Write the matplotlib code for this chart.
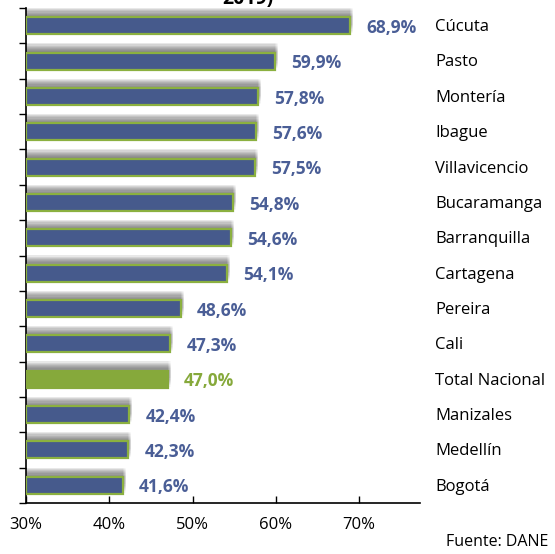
import matplotlib
matplotlib.use("Agg")
import matplotlib.pyplot as plt
from matplotlib.transforms import blended_transform_factory

cities = ["Cúcuta", "Pasto", "Montería", "Ibague", "Villavicencio", "Bucaramanga",
          "Barranquilla", "Cartagena", "Pereira", "Cali", "Total Nacional",
          "Manizales", "Medellín", "Bogotá"]
values = [68.9, 59.9, 57.8, 57.6, 57.5, 54.8, 54.6, 54.1, 48.6, 47.3, 47.0, 42.4, 42.3, 41.6]
xticks = [30, 40, 50, 60, 70]

plt.rcParams['font.family'] = ['Open Sans', 'DejaVu Sans']

fig = plt.figure(figsize=(5.55, 5.54), dpi=100)
ax = fig.add_axes([26/555, 1-503/554, (420-26)/555, (503-8)/554])
xmin, xmax = 30, 77.3
ax.set_xlim(xmin, xmax)
n = len(cities)
ax.set_ylim(n - 0.5, -0.5)

blue = "#465a8c"
green = "#86a93b"
edge = "#8bb040"
lblue = "#4a5e96"

ys = list(range(n))
bh = 0.48
# soft blurred shadow above bars
for i in range(8):
    off = 0.033 * (i + 1)
    for j in range(4):
        ext = 0.12 * j
        ax.barh([y - off for y in ys], [v - xmin + ext for v in values], left=xmin,
                height=bh, color="#606060", alpha=0.035, linewidth=0, zorder=1)
for y, v, c in zip(ys, values, cities):
    total = c == "Total Nacional"
    ax.barh(y, v - xmin, left=xmin, height=bh,
            color=green if total else blue,
            edgecolor=green if total else edge, linewidth=1.6, zorder=3)
    ax.text(v + 1.95, y + 0.06, f"{v:.1f}%".replace(".", ","), ha="left", va="center",
            fontsize=12.5, fontweight="bold", color=green if total else lblue, zorder=4)

tr = blended_transform_factory(fig.transFigure, ax.transData)
for y, c in zip(ys, cities):
    ax.text(435/555, y + 0.04, c, transform=tr, ha="left", va="center",
            fontsize=12, color="black")

ax.set_xticks(xticks)
ax.set_xticklabels([f"{t}%" for t in xticks], fontsize=12)
ax.set_yticks([i - 0.5 for i in range(n + 1)])
ax.set_yticklabels([])
ax.tick_params(axis="y", length=5, width=1, direction="out")
ax.tick_params(axis="x", length=5, width=1, direction="in", pad=10)
for s in ["top", "right"]:
    ax.spines[s].set_visible(False)
ax.spines["left"].set_linewidth(1.2)
ax.spines["bottom"].set_linewidth(1.2)

fig.text(248/555, 1 + 1/554, "2019)", ha="center", va="center", fontsize=14,
         fontweight="bold")
fig.text(548/555, 1 - 542/554, "Fuente: DANE", ha="right", va="center", fontsize=11.5)

fig.savefig("out.png", dpi=100)
